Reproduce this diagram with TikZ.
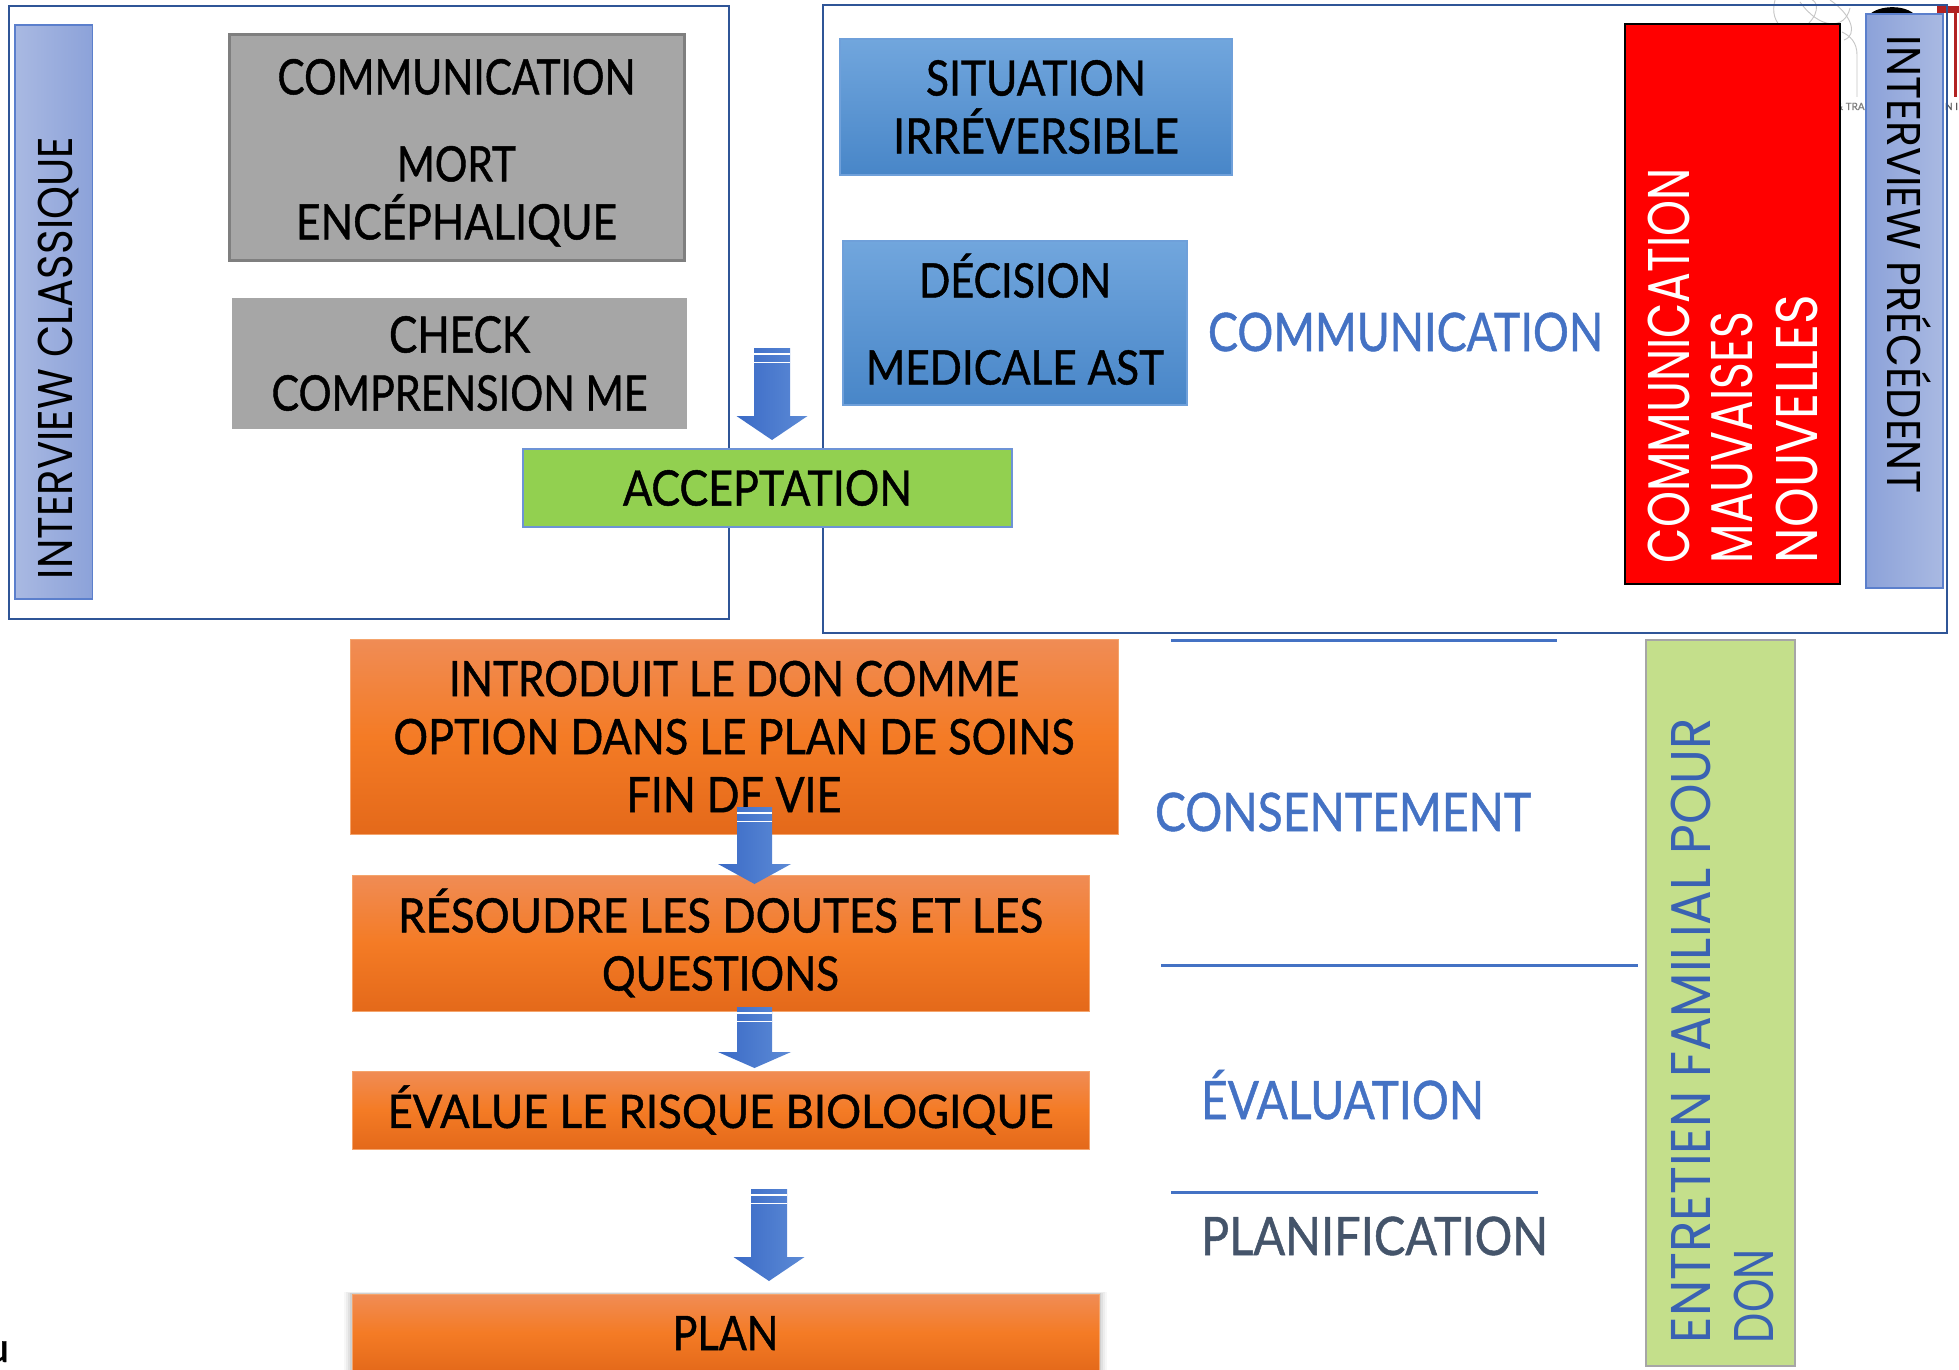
\documentclass[tikz,border=0pt]{standalone}
\usepackage{fontspec}
\usepackage{graphicx}
\setmainfont{Lato}[FakeBold=1]
\newfontfamily\gothic{Poppins}
\usetikzlibrary{calc}

\definecolor{outerblue}{HTML}{2F5597}
\definecolor{barlight}{HTML}{A9B9E2}
\definecolor{bardark}{HTML}{8CA2D9}
\definecolor{baredge}{HTML}{5B7FCC}
\definecolor{grayfill}{HTML}{A6A6A6}
\definecolor{grayedge}{HTML}{7F7F7F}
\definecolor{bluetop}{HTML}{71A6DD}
\definecolor{bluebot}{HTML}{4886C8}
\definecolor{blueedge}{HTML}{6FA0DA}
\definecolor{accgreen}{HTML}{92D050}
\definecolor{accedge}{HTML}{6D93D6}
\definecolor{orangetop}{HTML}{F08C55}
\definecolor{orangemid}{HTML}{F47B25}
\definecolor{orangebot}{HTML}{E4691A}
\definecolor{orangeedge}{HTML}{F4A46C}
\definecolor{labelblue}{HTML}{4472C4}
\definecolor{slate}{HTML}{44546A}
\definecolor{famgreen}{HTML}{C4DF8B}
\definecolor{famedge}{HTML}{A6A6A6}
\definecolor{famtext}{HTML}{3A62B2}
\definecolor{arrowL}{HTML}{3A6AC6}
\definecolor{arrowR}{HTML}{5D8BD6}
\definecolor{darkred}{HTML}{B22222}

\newsavebox\txbox
\newsavebox\capbox
% \tx{ink width}{cap height}{text}
\newcommand\tx[3]{\sbox\capbox{H}\sbox\txbox{#3}%
  \pgfmathsetmacro\sxf{#1/\the\wd\txbox}%
  \pgfmathsetmacro\syf{#2/\the\ht\capbox}%
  \scalebox{\sxf}[\syf]{\usebox\txbox}}

% block arrow: top coordinate, tip coordinate, shaft half width, head half width, head length
\newcommand\blockarrow[5]{%
  \path[left color=arrowL, right color=arrowR] let \p1=(#1), \p2=(#2) in
    (\x1-#3pt,\y1) -- (\x1+#3pt,\y1) -- (\x1+#3pt,\y2+#5pt) -- (\x1+#4pt,\y2+#5pt)
    -- (\x2,\y2) -- (\x1-#4pt,\y2+#5pt) -- (\x1-#3pt,\y2+#5pt) -- cycle;
  \fill[white] let \p1=(#1) in (\x1-#3pt,\y1-5pt) rectangle (\x1+#3pt,\y1-6.5pt);
  \fill[white] let \p1=(#1) in (\x1-#3pt,\y1-13.5pt) rectangle (\x1+#3pt,\y1-15pt);
}

\begin{document}
\begin{tikzpicture}[x=1pt,y=-1pt,
  every node/.style={inner sep=0pt, outer sep=0pt},
  txt/.style={font=\fontsize{48}{58}\selectfont, align=center, text=black},
  frame/.style={draw=outerblue, line width=2.5pt},
  sidebar/.style={draw=baredge, line width=1.2pt},
  graybox/.style={txt, fill=grayfill},
  bluebox/.style={txt, top color=bluetop, bottom color=bluebot, draw=blueedge, line width=1.2pt},
  greenbox/.style={txt, fill=accgreen, draw=accedge, line width=1.2pt},
  orangebox/.style={txt, top color=orangetop, bottom color=orangebot, middle color=orangemid, draw=orangeedge, line width=0.8pt},
  lab/.style={font=\fontsize{52}{58}\selectfont, text=labelblue},
  rot/.style={font=\fontsize{48}{58}\selectfont},
  sep/.style={draw=labelblue, line width=3pt}
]
\useasboundingbox (0,0) rectangle (1959,1370);
\clip (0,0) rectangle (1959,1370);
\fill[white] (0,0) rectangle (1959,1370);

% background remnants (logo) top right
\fill[darkred] (1937,6) rectangle (1959,13);
\fill[darkred] (1954,6) rectangle (1956.5,97);
\fill[black] (1867,18) .. controls (1873,5) and (1906,3) .. (1916,16) -- cycle;
\begin{scope}[draw=gray!45, line width=0.9pt]
  \draw (1775,0) .. controls (1768,25) and (1790,40) .. (1808,24) .. controls (1822,10) and (1815,0) .. (1812,0);
  \draw (1800,2) .. controls (1820,30) and (1845,30) .. (1850,8);
  \draw (1830,0) .. controls (1852,15) and (1858,35) .. (1844,40);
  \draw (1857,97) -- (1857,55) .. controls (1857,42) and (1850,36) .. (1842,32);
\end{scope}
\node[anchor=base west, font=\fontsize{10}{10}\selectfont, text=gray] (logotxt) at (1836,110) {\& TRA};
\node[anchor=base west, font=\fontsize{10}{10}\selectfont, text=gray!70!black] (logon) at (1945,110) {N I};

% frames
\node[frame, minimum width=720, minimum height=613] (leftframe) at (369,312.5) {};
\node[frame, minimum width=1124, minimum height=628] (rightframe) at (1385,319) {};

% side bars
\node[sidebar, left color=barlight, right color=bardark, minimum width=77.5, minimum height=574] (barL) at (53.75,312) {};
\node[sidebar, left color=bardark, right color=barlight, minimum width=77, minimum height=574] (barR) at (1904.5,301) {};
\node[rot, rotate=90, anchor=base] (ic) at (72,358) {\gothic\tx{442}{34}{INTERVIEW CLASSIQUE}};
\node[rot, rotate=-90, anchor=base] (ip) at (1887,265) {\gothic\tx{458}{33}{INTERVIEW PRÉCÉDENT}};

% gray boxes
\node[graybox, draw=grayedge, line width=3pt, minimum width=455, minimum height=225] (g1) at (456.5,147.5)
  {\rule{0pt}{46pt}\tx{358}{35}{COMMUNICATION}\\[29pt]\tx{119}{35}{MORT}\\\tx{321}{35}{ENCÉPHALIQUE}};
\node[graybox, minimum width=455, minimum height=131] (g2) at (459.5,363.5)
  {\tx{141}{36}{CHECK}\\\tx{376}{35}{COMPRENSION ME}};

% blue boxes
\node[bluebox, minimum width=392, minimum height=136] (sit) at (1036,107)
  {\tx{220}{35}{SITUATION}\\\tx{286}{35}{IRRÉVERSIBLE}};
\node[bluebox, minimum width=344, minimum height=164] (dec) at (1015,323)
  {\tx{192}{34}{DÉCISION}\\[29pt]\tx{298}{34}{MEDICALE AST}\rule[-8pt]{0pt}{8pt}};
\node[lab, anchor=base] (comlab) at (1405.5,351) {\tx{395}{38}{COMMUNICATION}};

% red box
\node[fill=red, draw=black, line width=2pt, minimum width=215, minimum height=559.5] (red) at (1732.5,304.25) {};
\node[rot, text=white, rotate=90, anchor=base west] (r1) at (1689,563) {\gothic\tx{395}{41}{COMMUNICATION}};
\node[rot, text=white, rotate=90, anchor=base west] (r2) at (1752,563) {\gothic\tx{251}{41}{MAUVAISES}};
\node[rot, text=white, rotate=90, anchor=base west] (r3) at (1817,563) {\gothic\tx{268}{41}{NOUVELLES}};

% acceptation
\node[greenbox, minimum width=489, minimum height=78] (acc) at (767.5,488) {\tx{289}{35}{ACCEPTATION}};

% separator lines
\coordinate (s1a) at (1171,640); \coordinate (s1b) at (1557,640);
\coordinate (s2a) at (1161,965); \coordinate (s2b) at (1638,965);
\coordinate (s3a) at (1171,1192); \coordinate (s3b) at (1538,1192);
\draw[sep] (s1a) -- (s1b);
\draw[sep] (s2a) -- (s2b);
\draw[sep] (s3a) -- (s3b);

\node[lab, anchor=base] (cons) at (1343,831) {\tx{376}{38}{CONSENTEMENT}};
\node[lab, anchor=base] (eval) at (1342.5,1119) {\tx{283}{38}{ÉVALUATION}};
\node[lab, text=slate, anchor=base] (plani) at (1374.5,1255) {\tx{347}{38}{PLANIFICATION}};

% family interview bar
\node[fill=famgreen, draw=famedge, line width=1.5pt, minimum width=149, minimum height=726] (fam) at (1720.5,1003) {};
\node[rot, text=famtext, rotate=90, anchor=base west] (f1) at (1710,1343) {\gothic\tx{625}{39}{ENTRETIEN FAMILIAL POUR}};
\node[rot, text=famtext, rotate=90, anchor=base west] (f2) at (1773,1343) {\gothic\tx{94}{39}{DON}};

% orange flow
\node[orangebox, minimum width=768, minimum height=195] (intro) at (734,736.5)
  {\tx{570}{35}{INTRODUIT LE DON COMME}\\\tx{681}{35}{OPTION DANS LE PLAN DE SOINS}\\\tx{215}{35}{FIN DE VIE}};
\node[orangebox, minimum width=737, minimum height=136] (res) at (720.5,943)
  {\tx{645}{34}{RÉSOUDRE LES DOUTES ET LES}\\\tx{237}{34}{QUESTIONS}};
\node[orangebox, minimum width=737, minimum height=78] (eva) at (720.5,1110)
  {\tx{666}{33}{ÉVALUE LE RISQUE BIOLOGIQUE}};
\foreach \s/\o in {8/0.03,6/0.04,4/0.05,2/0.07}
  \fill[black, opacity=\o] (352-\s,1294-\s*0.3) rectangle (1099+\s,1380);
\node[orangebox, minimum width=747, minimum height=78] (plan) at (725.5,1333) {\tx{106}{34}{PLAN}};

% arrows
\coordinate (aAtop) at (772,348); \coordinate (aAtip) at (772,440);
\coordinate (a1top) at (754.5,807); \coordinate (a1tip) at (754.5,884);
\coordinate (a2top) at (754.5,1007); \coordinate (a2tip) at (754.5,1068);
\coordinate (a3top) at (769,1189); \coordinate (a3tip) at (769,1281);
\blockarrow{aAtop}{aAtip}{18}{35.5}{24}
\blockarrow{a1top}{a1tip}{17.5}{36.5}{20}
\blockarrow{a2top}{a2tip}{17.5}{36.5}{16}
\blockarrow{a3top}{a3tip}{18}{35.5}{24}

% stray glyph bottom-left
\node[anchor=base east, font=\fontsize{41}{41}\selectfont] (uu) at (9,1362) {u};
\end{tikzpicture}
\end{document}
